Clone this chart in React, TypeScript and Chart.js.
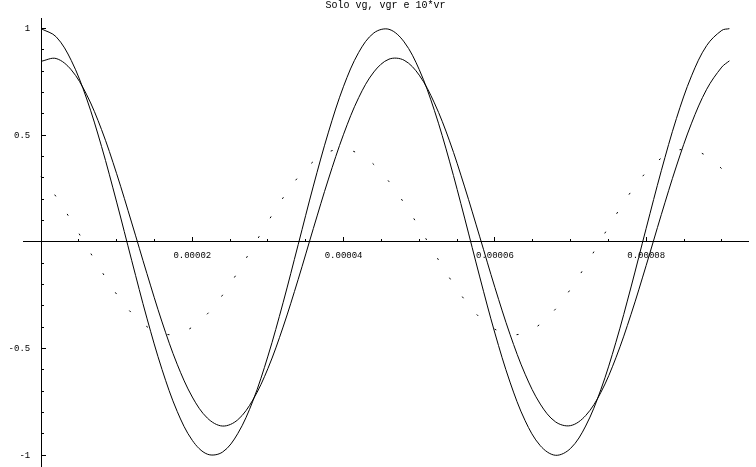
import React, { useEffect, useRef } from 'react';
import { Chart, registerables } from 'chart.js';

Chart.register(...registerables);

// time samples in microseconds
const timeUs = [0, 2, 4, 6, 8, 10, 12, 14, 16, 18, 20, 22, 24, 26, 28, 30, 32, 34, 36, 38, 40, 42, 44, 46, 48, 50, 52, 54, 56, 58, 60, 62, 64, 66, 68, 70, 72, 74, 76, 78, 80, 82, 84, 86, 88, 90, 91];

const vg = [1.000, 0.962, 0.851, 0.675, 0.448, 0.187, -0.088, -0.357, -0.598, -0.794, -0.930, -0.995, -0.985, -0.899, -0.746, -0.535, -0.285, -0.012, 0.262, 0.515, 0.730, 0.889, 0.980, 0.997, 0.938, 0.808, 0.617, 0.379, 0.112, -0.164, -0.427, -0.657, -0.838, -0.955, -1.000, -0.968, -0.863, -0.693, -0.470, -0.211, 0.064, 0.334, 0.579, 0.779, 0.921, 0.992, 1.000];

const vgr = [0.847, 0.860, 0.807, 0.693, 0.527, 0.320, 0.089, -0.148, -0.375, -0.573, -0.727, -0.826, -0.863, -0.834, -0.741, -0.593, -0.399, -0.175, 0.063, 0.295, 0.505, 0.677, 0.797, 0.857, 0.852, 0.782, 0.652, 0.474, 0.258, 0.024, -0.213, -0.433, -0.620, -0.760, -0.843, -0.861, -0.814, -0.706, -0.543, -0.339, -0.110, 0.128, 0.356, 0.557, 0.716, 0.820, 0.849];

const vr10 = [0.308, 0.212, 0.100, -0.019, -0.137, -0.245, -0.334, -0.397, -0.430, -0.431, -0.399, -0.337, -0.249, -0.142, -0.024, 0.095, 0.207, 0.304, 0.377, 0.422, 0.435, 0.414, 0.363, 0.283, 0.182, 0.068, -0.052, -0.168, -0.271, -0.354, -0.409, -0.434, -0.426, -0.385, -0.315, -0.221, -0.110, 0.009, 0.127, 0.236, 0.327, 0.393, 0.429, 0.432, 0.403, 0.343, 0.303];

const titleText = 'Solo vg, vgr e 10*vr';

const X_MIN = -0.00000238;
const X_MAX = 0.00009346;
const Y_MIN = -1.055;
const Y_MAX = 1.05;

export default function App() {
  const ref = useRef<HTMLCanvasElement>(null);

  useEffect(() => {
    const mono = "'Liberation Mono', 'DejaVu Sans Mono', monospace";
    const toPts = (ys: number[]) => ys.map((y, i) => ({ x: timeUs[i] * 1e-6, y }));
    const zeroPad = (s: any) => {
      s.paddingTop = 0;
      s.paddingBottom = 0;
      s.paddingLeft = 0;
      s.paddingRight = 0;
    };
    const lineBase = {
      borderColor: '#000',
      borderWidth: 1,
      pointRadius: 0,
      tension: 0.35,
      fill: false,
    };
    const chart = new Chart(ref.current as HTMLCanvasElement, {
      type: 'line',
      data: {
        datasets: [
          { ...lineBase, label: 'vg', data: toPts(vg) },
          { ...lineBase, label: 'vgr', data: toPts(vgr) },
          { ...lineBase, label: '10*vr', data: toPts(vr10), borderDash: [2, 21] },
        ],
      },
      options: {
        animation: false,
        responsive: false,
        layout: { padding: { left: 23, right: 8, top: 0, bottom: 0 } },
        plugins: {
          legend: { display: false },
          tooltip: { enabled: false },
          title: {
            display: true,
            text: titleText,
            color: '#000',
            font: { family: mono, size: 10, weight: 'normal', lineHeight: 0.9 },
            padding: { top: 1, bottom: 8 },
          },
        },
        scales: {
          x: {
            type: 'linear',
            position: { y: 0 },
            min: X_MIN,
            max: X_MAX,
            grid: { drawOnChartArea: false, drawTicks: true, tickLength: -3, tickColor: '#000', tickWidth: 1 },
            border: { display: true, color: '#000', width: 1 },
            ticks: { display: false, stepSize: 0.000005, includeBounds: false, autoSkip: false },
            afterFit: zeroPad,
          },
          x2: {
            type: 'linear',
            position: { y: 0 },
            min: X_MIN,
            max: X_MAX,
            grid: { drawOnChartArea: false, drawTicks: true, tickLength: -5, tickColor: '#000', tickWidth: 1 },
            border: { display: false },
            ticks: {
              stepSize: 0.00002,
              includeBounds: false,
              autoSkip: false,
              maxRotation: 0,
              padding: 13,
              color: '#000',
              font: { family: mono, size: 9 },
              callback: (v: any) => (Math.abs(Number(v)) < 1e-9 ? '' : Number(v).toFixed(5)),
            },
            afterFit: zeroPad,
          },
          y: {
            type: 'linear',
            position: { x: 0 },
            min: Y_MIN,
            max: Y_MAX,
            grid: { drawOnChartArea: false, drawTicks: true, tickLength: -3, tickColor: '#000', tickWidth: 1 },
            border: { display: true, color: '#000', width: 1 },
            ticks: { display: false, stepSize: 0.1, includeBounds: false, autoSkip: false },
            afterFit: zeroPad,
          },
          y2: {
            type: 'linear',
            position: { x: 0 },
            min: Y_MIN,
            max: Y_MAX,
            grid: { drawOnChartArea: false, drawTicks: true, tickLength: -5, tickColor: '#000', tickWidth: 1 },
            border: { display: false },
            ticks: {
              stepSize: 0.5,
              includeBounds: false,
              autoSkip: false,
              padding: 0,
              color: '#000',
              font: { family: mono, size: 9 },
              callback: (v: any) => {
                const n = Math.round(Number(v) * 10) / 10;
                return n === 0 ? '' : String(n) + '\u00a0\u00a0';
              },
            },
            afterFit: zeroPad,
          },
        },
      } as any,
    });
    return () => chart.destroy();
  }, []);

  return (
    <div style={{ position: 'fixed', left: 0, top: 0, width: 756, height: 467, background: '#fff' }}>
      <canvas ref={ref} width={756} height={467} style={{ display: 'block' }} />
    </div>
  );
}
